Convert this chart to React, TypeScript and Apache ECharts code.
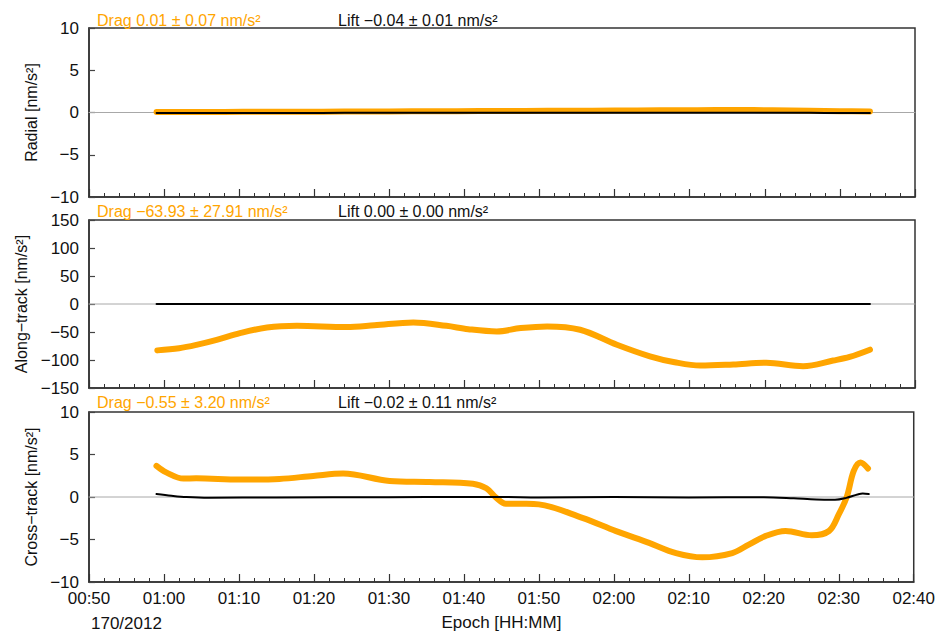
import React, { useEffect, useRef } from "react";
import * as echarts from "echarts";

// Epoch in minutes after 00:00 on day 170/2012
const radialTime = [59, 63, 68, 73, 78, 84, 90, 96, 102, 108, 114, 120, 126, 131, 136, 141, 146, 150, 154];
const radialDrag = [0.06, 0.06, 0.07, 0.08, 0.09, 0.11, 0.13, 0.15, 0.17, 0.19, 0.21, 0.23, 0.26, 0.28, 0.29, 0.27, 0.22, 0.16, 0.12];
const radialLift = [-0.06, -0.06, -0.05, -0.05, -0.05, -0.04, -0.04, -0.04, -0.04, -0.03, -0.03, -0.03, -0.03, -0.03, -0.04, -0.04, -0.04, -0.05, -0.05];

const alongTime = [59.1, 62, 64.3, 67, 70.1, 73.7, 77.7, 84.3, 88, 93.2, 97.6, 100.5, 104.3, 107.5, 111, 115.4, 120.3, 124.7, 128, 131.4, 135.8, 140.2, 145.1, 149.1, 151.3, 154];
const alongDrag = [-82.8, -79, -73, -64, -52, -42, -39, -41, -38, -33, -39, -45, -49, -43, -40, -46, -72.7, -93.4, -104, -110, -108, -105, -111, -101, -94.5, -81.6];
const alongLiftTime = [59, 80, 100, 120, 140, 154];
const alongLift = [0.0, 0.0, 0.0, 0.0, 0.0, 0.0];

const crossTime = [59, 60.3, 62.6, 64.3, 70.1, 75.4, 79.9, 83.9, 90.1, 95.4, 101.2, 103, 104.3, 105.6, 108, 110, 115.8, 120.3, 124.7, 128.3, 131.8, 135.8, 138, 140.2, 142.9, 146.4, 148.7, 150, 151.1, 152, 152.9, 153.9];
const crossDrag = [3.67, 2.9, 2.17, 2.2, 2.05, 2.13, 2.48, 2.76, 1.89, 1.77, 1.57, 1.03, -0.08, -0.79, -0.8, -0.87, -2.45, -4.02, -5.4, -6.6, -7.1, -6.6, -5.6, -4.6, -4.0, -4.5, -4.0, -2.05, 0.1, 3.07, 4.06, 3.35];
const crossLiftTime = [59, 61, 63, 66, 75, 90, 100, 105, 110, 120, 130, 140, 144, 147, 149.5, 151, 152.5, 153.2, 154];
const crossLift = [0.35, 0.15, 0.0, -0.08, -0.05, -0.02, 0.0, 0.0, -0.05, 0.0, -0.05, -0.02, -0.15, -0.3, -0.32, -0.1, 0.3, 0.42, 0.35];

// Zero reference spanning the full epoch range
const zeroTime = [50, 160];
const zeroValue = [0, 0];

const panelNames = ["Radial [nm/s²]", "Along\u2212track [nm/s²]", "Cross\u2212track [nm/s²]"];
const dragTexts = ["Drag 0.01 ± 0.07 nm/s²", "Drag \u221263.93 ± 27.91 nm/s²", "Drag \u22120.55 ± 3.20 nm/s²"];
const liftTexts = ["Lift \u22120.04 ± 0.01 nm/s²", "Lift 0.00 ± 0.00 nm/s²", "Lift \u22120.02 ± 0.11 nm/s²"];
const yRanges = [
  [-10, 10, 5],
  [-150, 150, 50],
  [-10, 10, 5],
];

const ORANGE = "#FFA500";
const FONT = "'Liberation Sans', Arial, Helvetica, sans-serif";

const pairs = (t: number[], v: number[]) => t.map((x, i) => [x, v[i]]);
const hhmm = (v: number) => {
  const h = Math.floor(v / 60);
  const m = Math.round(v - h * 60);
  return `${String(h).padStart(2, "0")}:${String(m).padStart(2, "0")}`;
};
const signed = (v: number) => (v < 0 ? "\u2212" + Math.abs(v) : String(v));

export default function App() {
  const ref = useRef<HTMLDivElement>(null);

  useEffect(() => {
    if (!ref.current) return;
    const chart = echarts.init(ref.current, undefined, { renderer: "svg" });

    const grids = [
      { top: 28, height: 169 },
      { top: 220, height: 168 },
      { top: 412, height: 170 },
    ].map((g) => ({
      left: 89,
      width: 826,
      top: g.top,
      height: g.height,
      show: true,
      borderColor: "#333",
      borderWidth: 1.5,
      backgroundColor: "transparent",
    }));

    const xAxes = grids.map((_, i) => ({
      type: "value",
      gridIndex: i,
      min: 50,
      max: 160,
      interval: 10,
      axisLine: { show: true, onZero: false, lineStyle: { color: "#333", width: 1.5 } },
      axisTick: { show: true, inside: true, length: 8, lineStyle: { color: "#333", width: 1.2 } },
      minorTick: { show: true, splitNumber: 5, length: 4, lineStyle: { color: "#333", width: 1 } },
      splitLine: { show: false },
      axisLabel: {
        show: i === 2,
        formatter: hhmm,
        color: "#111",
        fontSize: 17,
        fontFamily: FONT,
        margin: 8,
      },
      name: i === 2 ? "Epoch [HH:MM]" : "",
      nameLocation: "middle",
      nameGap: 32,
      nameTextStyle: { color: "#111", fontSize: 17, fontFamily: FONT },
    }));

    const nameGaps = [50, 60, 49];
    const yAxes = grids.map((_, i) => ({
      type: "value",
      gridIndex: i,
      min: yRanges[i][0],
      max: yRanges[i][1],
      interval: yRanges[i][2],
      axisLine: { show: true, onZero: false, lineStyle: { color: "#333", width: 1.5 } },
      axisTick: { show: true, inside: true, length: 6, lineStyle: { color: "#444", width: 1.2 } },
      splitLine: { show: false },
      axisLabel: {
        formatter: signed,
        color: "#111",
        fontSize: 17,
        fontFamily: FONT,
        margin: 10,
      },
      name: panelNames[i],
      nameLocation: "middle",
      nameRotate: 90,
      nameGap: nameGaps[i],
      nameTextStyle: { color: "#111", fontSize: 16, fontFamily: FONT },
    }));

    const curve = (i: number, data: number[][], color: string, width: number, z: number, smooth: number | boolean = 0.35) => ({
      type: "line",
      xAxisIndex: i,
      yAxisIndex: i,
      data,
      smooth,
      showSymbol: false,
      symbol: "none",
      silent: true,
      z,
      lineStyle: { color, width, cap: "round", join: "round" },
    });

    const series = [
      curve(0, pairs(zeroTime, zeroValue), "#a8a8a8", 1, 1, false),
      curve(1, pairs(zeroTime, zeroValue), "#a8a8a8", 1, 1, false),
      curve(2, pairs(zeroTime, zeroValue), "#a8a8a8", 1, 1, false),
      curve(0, pairs(radialTime, radialDrag), ORANGE, 6, 3),
      curve(0, pairs(radialTime, radialLift), "#000", 2, 4),
      curve(1, pairs(alongTime, alongDrag), ORANGE, 6, 3),
      curve(1, pairs(alongLiftTime, alongLift), "#000", 2, 4),
      curve(2, pairs(crossTime, crossDrag), ORANGE, 6, 3),
      curve(2, pairs(crossLiftTime, crossLift), "#000", 2, 4),
    ];

    const titleY = [20, 211, 402.5];
    const graphic: any[] = [];
    titleY.forEach((y, i) => {
      graphic.push({
        type: "text",
        x: 97,
        y,
        style: { text: dragTexts[i], fill: ORANGE, font: `16px ${FONT}`, verticalAlign: "middle" },
      });
      graphic.push({
        type: "text",
        x: 338,
        y,
        style: { text: liftTexts[i], fill: "#111", font: `16px ${FONT}`, verticalAlign: "middle" },
      });
    });
    graphic.push({
      type: "text",
      x: 91,
      y: 623,
      style: { text: "170/2012", fill: "#111", font: `17px ${FONT}`, verticalAlign: "middle" },
    });

    chart.setOption({
      animation: false,
      backgroundColor: "#fff",
      grid: grids,
      xAxis: xAxes,
      yAxis: yAxes,
      series,
      graphic,
    } as any);

    return () => chart.dispose();
  }, []);

  return (
    <div
      ref={ref}
      style={{ position: "absolute", left: 0, top: 0, width: 938, height: 637 }}
    />
  );
}
